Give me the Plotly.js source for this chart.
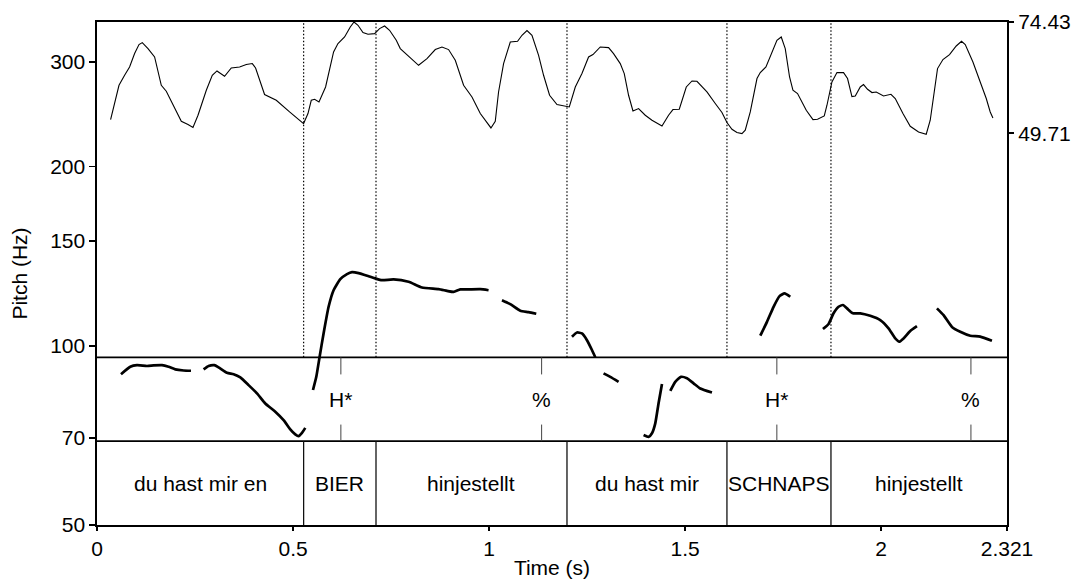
<!DOCTYPE html>
<html>
<head>
<meta charset="utf-8">
<script src="https://cdn.plot.ly/plotly-3.0.1.min.js"></script>
<style>html,body{margin:0;padding:0;background:#fff;}#chart{width:1071px;height:581px;}</style>
</head>
<body>
<div id="chart"></div>
<script>
// ---- Pitch contour (Hz), segments separated by null ----
const pitchTime = [
  0.0612,0.0849,0.102,0.1275,0.1444,0.1658,0.1826,0.1997,0.2209,0.2397, null,
  0.2719,0.2846,0.2992,0.3101,0.3316,0.3484,0.3655,0.3866,0.4081,0.4292,0.4547,0.4759,0.493,0.5057,0.5142,0.5228,0.5312, null,
  0.5509,0.5593,0.5677,0.5779,0.5907,0.6034,0.6205,0.6376,0.6504,0.6672,0.6927,0.7098,0.7269,0.7564,0.7947,0.8289,0.8712,0.8926,0.9095,0.9266,0.9477,0.9776,0.9987, null,
  1.0329,1.0541,1.0796,1.1007,1.1204, null,
  1.2114,1.2242,1.2369,1.2497,1.2624,1.2709, null,
  1.292,1.3091,1.3303, null,
  1.3941,1.4068,1.4155,1.4239,1.4323,1.441, null,
  1.4622,1.4749,1.4894,1.5047,1.5216,1.5387,1.5685, null,
  1.6917,1.7088,1.7256,1.7409,1.7537,1.7682, null,
  1.8516,1.8659,1.8786,1.8914,1.9026,1.9128,1.9281,1.9467,1.9722,1.9977,2.0189,2.036,2.0462,2.0571,2.0742,2.0913, null,
  2.1423,2.1592,2.1806,2.2017,2.2273,2.2527,2.2826
];
const pitchHz = [
  89.6,92.2,92.8,92.5,92.7,92.8,92.2,91.3,90.9,90.8, null,
  91.3,92.5,92.8,92.0,90.1,89.6,88.5,85.9,83.2,80.0,77.5,75.0,72.4,71.0,70.5,71.4,72.8, null,
  84.3,88.7,95.8,104.9,116.3,124.0,129.4,132.0,133.0,132.5,130.9,129.8,128.9,129.3,128.1,125.3,124.5,123.7,123.2,124.4,124.4,124.5,124.0, null,
  119.3,117.5,114.5,113.9,113.2, null,
  103.6,105.3,104.9,102.2,98.4,95.7, null,
  89.9,88.7,87.0, null,
  70.8,70.3,71.3,74.1,80.1,86.3, null,
  84.0,87.0,88.7,88.2,86.5,84.8,83.5, null,
  104.0,109.7,116.3,121.2,122.5,120.9, null,
  106.7,108.8,113.4,116.3,117.1,115.6,113.4,113.4,112.3,110.5,107.0,102.9,101.6,102.9,105.9,107.9, null,
  115.6,112.6,107.6,105.6,104.0,103.6,102.0
];

// ---- Intensity contour (dB) ----
const intensityTime = [
  0.0347,0.0449,0.0561,0.0704,0.0831,0.0959,0.1071,0.1155,0.1301,0.1469,
  0.164,0.1767,0.1938,0.215,0.2321,0.2448,0.2576,0.2788,0.294,0.306,
  0.3254,0.3425,0.3637,0.3808,0.3961,0.4045,0.4274,0.4402,0.4573,0.4912,
  0.5167,0.5269,0.5381,0.5465,0.555,0.5662,0.583,0.6034,0.6146,0.6315,
  0.646,0.6555,0.6657,0.6784,0.6912,0.708,0.7207,0.7335,0.7462,0.7633,
  0.7735,0.7906,0.8202,0.8416,0.8628,0.8799,0.8967,0.9138,0.935,0.9564,
  0.9776,1.0048,1.0158,1.0242,1.037,1.0541,1.0727,1.0839,1.0967,1.1094,
  1.1263,1.139,1.1543,1.1732,1.1944,1.2046,1.2199,1.2369,1.2538,1.265,
  1.2836,1.3048,1.3175,1.3346,1.3448,1.3558,1.367,1.3813,1.3984,1.4155,
  1.441,1.4578,1.469,1.4851,1.503,1.5175,1.5302,1.5488,1.5557,1.5769,
  1.594,1.6067,1.6195,1.6322,1.645,1.6534,1.6662,1.6833,1.6917,1.7062,
  1.7215,1.7342,1.7452,1.7554,1.7664,1.775,1.7868,1.809,1.8261,1.8378,
  1.8549,1.8618,1.8745,1.8873,1.9041,1.9143,1.9255,1.934,1.9467,1.9551,
  1.9653,1.9766,1.9875,2.0061,2.025,2.036,2.0556,2.0742,2.0954,2.115,
  2.1252,2.1438,2.1576,2.1744,2.1915,2.205,2.2145,2.2341,2.2527,2.2681,
  2.2782,2.2851
];
const intensityDb = [
  52.75,56.66,60.37,62.59,64.44,67.41,69.41,69.85,68.52,66.66,
  60.37,59.04,55.93,52.38,51.64,50.98,53.71,59.26,62.59,63.55,
  62.37,64.21,64.44,64.97,65.19,64.21,58.31,57.77,57.04,54.44,
  52.6,51.86,54.09,57.04,57.26,56.66,59.99,67.77,69.63,71.1,
  73.32,74.43,73.7,72.08,71.7,71.85,72.96,73.54,72.59,70.37,
  68.52,67.19,64.81,66.3,68.3,68.88,68.3,65.92,60.37,57.77,
  54.09,50.89,52.38,58.88,65.19,69.99,70.14,71.48,72.52,71.48,
  67.03,62.59,58.15,56.08,55.71,55.55,59.99,62.97,66.66,67.19,
  68.88,68.74,67.41,65.19,62.97,58.15,54.66,55.2,53.71,52.6,
  51.33,53.71,54.97,55.04,59.99,61.33,61.26,59.64,58.88,56.31,
  54.31,52.09,50.6,49.87,49.64,50.38,54.44,61.86,63.19,64.44,
  67.63,70.37,71.1,68.52,62.21,59.26,58.53,54.82,52.75,52.82,
  53.55,55.93,61.1,63.19,63.19,61.86,57.86,57.99,59.99,60.53,
  59.48,58.75,58.88,57.99,58.37,57.42,54.09,51.26,50.0,49.49,
  52.6,64.08,66.08,67.19,69.1,70.14,69.41,65.55,61.1,57.42,
  54.44,53.11
];

// ---- TextGrid ----
const totalDuration = 2.321;
const wordBoundaries = [0.527, 0.7116, 1.1987, 1.6067, 1.872];
const words = ["du hast mir en", "BIER", "hinjestellt", "du hast mir", "SCHNAPS", "hinjestellt"];
const toneTimes = [0.622, 1.134, 1.734, 2.229];
const toneLabels = ["H*", "%", "H*", "%"];

// ---- Axis ticks ----
const timeTickVals = [0, 0.5, 1, 1.5, 2, 2.321];
const timeTickText = ["0", "0.5", "1", "1.5", "2", "2.321"];
const pitchTickVals = [50, 70, 100, 150, 200, 300];
const pitchRange = [50, 350];
const intensityTickVals = [49.71, 74.43];
const intensityRange = [-37.35, 74.43];

const FONT = "Liberation Sans, Arial, Helvetica, sans-serif";
const FS = 21;
const tierTop = 1/3, tierMid = 1/6;

const traces = [
  {x: intensityTime, y: intensityDb, yaxis: 'y2', type: 'scatter', mode: 'lines',
   line: {color: '#000', width: 1.1}, hoverinfo: 'skip', showlegend: false},
  {x: pitchTime, y: pitchHz, type: 'scatter', mode: 'lines', connectgaps: false,
   line: {color: '#000', width: 2.7, shape: 'spline', smoothing: 0.5}, hoverinfo: 'skip', showlegend: false}
];

const shapes = [];
shapes.push({type: 'line', xref: 'paper', yref: 'paper', x0: 0, x1: 1, y0: tierTop, y1: tierTop, line: {color: '#000', width: 1.6}});
shapes.push({type: 'line', xref: 'paper', yref: 'paper', x0: 0, x1: 1, y0: tierMid, y1: tierMid, line: {color: '#000', width: 1.6}});
wordBoundaries.forEach(b => {
  shapes.push({type: 'line', xref: 'x', yref: 'paper', x0: b, x1: b, y0: tierTop, y1: 1, line: {color: '#000', width: 1.2, dash: '1.5px,2px'}});
  shapes.push({type: 'line', xref: 'x', yref: 'paper', x0: b, x1: b, y0: 0, y1: tierMid, line: {color: '#111', width: 1.3}});
});
toneTimes.forEach(t => {
  shapes.push({type: 'line', xref: 'x', yref: 'paper', x0: t, x1: t, y0: tierTop - 0.034, y1: tierTop, line: {color: '#444', width: 1}});
  shapes.push({type: 'line', xref: 'x', yref: 'paper', x0: t, x1: t, y0: tierMid, y1: tierMid + 0.033, line: {color: '#444', width: 1}});
});

const annotations = [];
const edges = [0].concat(wordBoundaries).concat([totalDuration]);
words.forEach((w, i) => {
  annotations.push({x: (edges[i] + edges[i+1]) / 2, y: tierMid / 2, xref: 'x', yref: 'paper', text: w, showarrow: false,
    xanchor: 'center', yanchor: 'middle', font: {family: FONT, size: FS, color: '#000'}});
});
toneTimes.forEach((t, i) => {
  annotations.push({x: t, y: (tierTop + tierMid) / 2, xref: 'x', yref: 'paper', text: toneLabels[i], showarrow: false,
    xanchor: 'center', yanchor: 'middle', font: {family: FONT, size: FS, color: '#000'}});
});

const layout = {
  width: 1071, height: 581,
  margin: {l: 97, r: 64, t: 22, b: 56, pad: 0},
  paper_bgcolor: '#fff', plot_bgcolor: '#fff',
  font: {family: FONT, size: FS, color: '#000'},
  showlegend: false,
  xaxis: {
    range: [0, totalDuration], tickvals: timeTickVals, ticktext: timeTickText,
    ticks: 'outside', ticklen: 4, tickwidth: 1.5, tickcolor: '#000',
    showline: true, linewidth: 1.6, linecolor: '#000', mirror: true,
    showgrid: false, zeroline: false, tickfont: {family: FONT, size: FS},
    title: {text: 'Time (s)', font: {family: FONT, size: FS}, standoff: 1}
  },
  yaxis: {
    type: 'log', range: [Math.log10(pitchRange[0]), Math.log10(pitchRange[1])],
    tickvals: pitchTickVals, ticktext: pitchTickVals.map(String),
    ticks: 'outside', ticklen: 6, tickwidth: 1.5, tickcolor: '#000',
    showline: true, linewidth: 1.6, linecolor: '#000', mirror: true,
    showgrid: false, zeroline: false, tickfont: {family: FONT, size: FS},
    title: {text: 'Pitch (Hz)', font: {family: FONT, size: FS}, standoff: 17}
  },
  yaxis2: {
    overlaying: 'y', side: 'right', range: intensityRange,
    tickvals: intensityTickVals, ticktext: intensityTickVals.map(v => v.toFixed(2)),
    ticks: 'outside', ticklen: 6, tickwidth: 1.5, tickcolor: '#000',
    showline: false, showgrid: false, zeroline: false, tickfont: {family: FONT, size: FS}
  },
  shapes: shapes,
  annotations: annotations
};

Plotly.newPlot('chart', traces, layout, {staticPlot: true, displayModeBar: false});
</script>
</body>
</html>
